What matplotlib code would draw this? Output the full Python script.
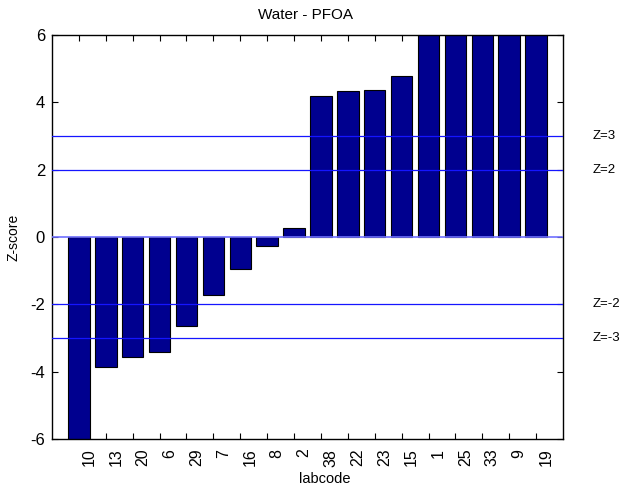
import matplotlib
matplotlib.use("Agg")
import matplotlib.pyplot as plt
import matplotlib.transforms as mtransforms
import numpy as np

plt.rcParams['font.family'] = ['Liberation Sans', 'DejaVu Sans']

labcodes = ["10", "13", "20", "6", "29", "7", "16", "8", "2", "38",
            "22", "23", "15", "1", "25", "33", "9", "19"]
zscores = [-6.1, -3.86, -3.55, -3.43, -2.63, -1.72, -0.96, -0.28, 0.26, 4.18,
           4.33, 4.36, 4.77, 6.1, 6.1, 6.1, 6.1, 6.1]
limit_values = [3, 2, -2, -3]
limit_labels = ["Z=3", "Z=2", "Z=-2", "Z=-3"]
yticks = [-6, -4, -2, 0, 2, 4, 6]

fig = plt.figure(figsize=(6.24, 4.90), dpi=100)
ax = fig.add_axes([52/624, 1 - 439/490, (563-52)/624, (439-35)/490])

x = np.arange(1, len(labcodes) + 1)
ax.bar(x, zscores, width=0.8, color="#00008f", edgecolor="black", linewidth=0.8, zorder=2)

ax.axhline(0, color="#7070ff", linewidth=1.2, zorder=3)
for v, lab in zip(limit_values, limit_labels):
    ax.axhline(v, color="#1515ff", linewidth=0.9, zorder=3)
    ax.text(593/624, v, lab,
            transform=mtransforms.blended_transform_factory(fig.transFigure, ax.transData),
            fontsize=9.5, va="center", ha="left")

ax.set_xlim(0, 19)
ax.set_ylim(-6, 6)
ax.set_yticks(yticks)
ax.set_xticks(x)
ax.tick_params(direction="in", top=True, right=True, length=4, width=0.8)
ax.tick_params(axis="y", pad=5)
ax.tick_params(axis="x", pad=7)
ax.set_yticklabels([str(t) for t in yticks], fontsize=12)
ax.set_xticklabels(labcodes, rotation=90, fontsize=11.5, va="top", ha="center")
offset = mtransforms.ScaledTranslation(0.10, 0, fig.dpi_scale_trans)
for lbl in ax.get_xticklabels():
    lbl.set_transform(lbl.get_transform() + offset)
for s in ax.spines.values():
    s.set_linewidth(1.0)

fig.text(305/624, 1 - 15/490, "Water - PFOA", fontsize=11, ha="center", va="center")
fig.text(325/624, 1 - 479/490, "labcode", fontsize=10.5, ha="center", va="center")
fig.text(13/624, 1 - 237/490, "Z-score", fontsize=10, ha="center", va="center", rotation=90)

fig.savefig("out.png", dpi=100)
